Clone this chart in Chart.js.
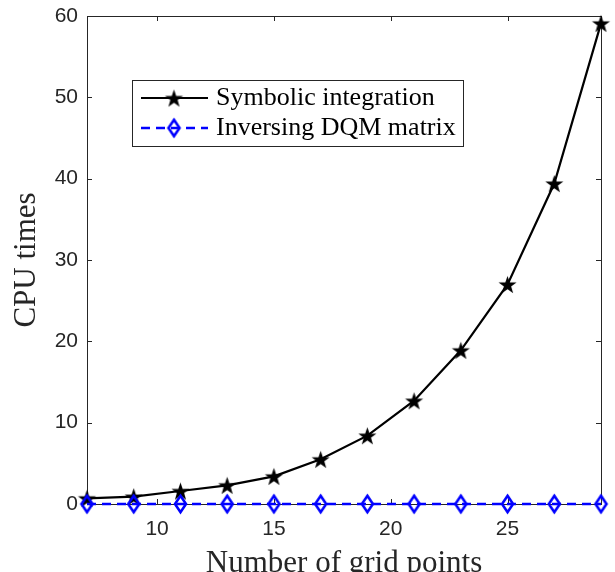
<!DOCTYPE html>
<html>
<head>
<meta charset="utf-8">
<script src="https://cdn.jsdelivr.net/npm/chart.js@4.4.1/dist/chart.umd.min.js"></script>
<style>
  html, body { margin: 0; padding: 0; background: #fff; }
</style>
</head>
<body>
<canvas id="myChart" width="615" height="572"></canvas>
<script>
// data
const gridPoints = [7, 9, 11, 13, 15, 17, 19, 21, 23, 25, 27, 29];
const symbolicTimes = [0.7, 0.9, 1.6, 2.3, 3.4, 5.5, 8.4, 12.7, 18.9, 27.0, 39.4, 59.1];
const dqmTimes = [0, 0, 0, 0, 0, 0, 0, 0, 0, 0, 0, 0];
const xTicks = [10, 15, 20, 25];
const yTicks = [0, 10, 20, 30, 40, 50, 60];

const axisColor = '#262626';
const serif = '"Liberation Serif", "Times New Roman", serif';
const sans = '"Liberation Sans", Arial, sans-serif';

// filled pentagram marker
function makeStar(r) {
  const c = document.createElement('canvas');
  const s = Math.ceil(r * 2 + 2);
  c.width = s; c.height = s;
  const g = c.getContext('2d');
  g.translate(s / 2, s / 2 + r * 0.1);
  g.beginPath();
  for (let i = 0; i < 10; i++) {
    const rad = i % 2 === 0 ? r : r * 0.4;
    const a = -Math.PI / 2 + i * Math.PI / 5;
    g.lineTo(rad * Math.cos(a), rad * Math.sin(a));
  }
  g.closePath();
  g.fillStyle = '#000';
  g.fill();
  return c;
}

// open diamond marker, taller than wide
function makeDiamond(w, h, lw) {
  const c = document.createElement('canvas');
  c.width = Math.ceil(w + lw * 2);
  c.height = Math.ceil(h + lw * 2);
  const g = c.getContext('2d');
  const cx = c.width / 2, cy = c.height / 2;
  g.beginPath();
  g.moveTo(cx, cy - h / 2);
  g.lineTo(cx + w / 2, cy);
  g.lineTo(cx, cy + h / 2);
  g.lineTo(cx - w / 2, cy);
  g.closePath();
  g.strokeStyle = '#0000ff';
  g.lineWidth = lw;
  g.stroke();
  return c;
}

const starImg = makeStar(9.5);
const diamondImg = makeDiamond(11, 16.5, 2.6);

const frame = {
  id: 'frame',
  beforeDatasetsDraw(chart) {
    const { ctx, chartArea: a, scales } = chart;
    ctx.save();
    ctx.strokeStyle = axisColor;
    ctx.lineWidth = 1;
    ctx.strokeRect(a.left + 0.5, a.top + 0.5, a.right - a.left, a.bottom - a.top);
    ctx.beginPath();
    const tl = 5;
    xTicks.forEach(v => {
      const x = Math.round(scales.x.getPixelForValue(v)) + 0.5;
      ctx.moveTo(x, a.bottom); ctx.lineTo(x, a.bottom - tl);
      ctx.moveTo(x, a.top); ctx.lineTo(x, a.top + tl);
    });
    yTicks.forEach(v => {
      const y = Math.round(scales.y.getPixelForValue(v)) + 0.5;
      ctx.moveTo(a.left, y); ctx.lineTo(a.left + tl, y);
      ctx.moveTo(a.right, y); ctx.lineTo(a.right - tl, y);
    });
    ctx.stroke();
    ctx.restore();
  },
  afterDraw(chart) {
    const ctx = chart.ctx;
    ctx.save();
    // legend box
    ctx.fillStyle = '#fff';
    ctx.fillRect(132, 80, 331, 66);
    ctx.strokeStyle = axisColor;
    ctx.lineWidth = 1;
    ctx.strokeRect(132.5, 80.5, 331, 66);
    const rows = [
      { y: 98, label: chart.data.datasets[0].label, color: '#000', dash: [], img: starImg, lw: 2.2 },
      { y: 128, label: chart.data.datasets[1].label, color: '#0000ff', dash: [9, 6], img: diamondImg, lw: 2.6 }
    ];
    rows.forEach(r => {
      ctx.beginPath();
      ctx.setLineDash(r.dash);
      ctx.strokeStyle = r.color;
      ctx.lineWidth = r.lw;
      ctx.moveTo(141, r.y); ctx.lineTo(208, r.y);
      ctx.stroke();
      ctx.setLineDash([]);
      ctx.drawImage(r.img, 174 - r.img.width / 2, r.y - r.img.height / 2);
      ctx.fillStyle = '#000';
      ctx.font = '26px ' + serif;
      ctx.textBaseline = 'alphabetic';
      ctx.fillText(r.label, 216, r.y + 7);
    });
    ctx.restore();
  }
};

new Chart(document.getElementById('myChart'), {
  type: 'line',
  data: {
    datasets: [{
      label: 'Symbolic integration',
      data: gridPoints.map((x, i) => ({ x: x, y: symbolicTimes[i] })),
      borderColor: '#000',
      borderWidth: 2.2,
      pointStyle: starImg,
      tension: 0,
      clip: false,
      order: 1
    }, {
      label: 'Inversing DQM matrix',
      data: gridPoints.map((x, i) => ({ x: x, y: dqmTimes[i] })),
      borderColor: '#0000ff',
      borderWidth: 2.6,
      borderDash: [9, 6],
      pointStyle: diamondImg,
      tension: 0,
      clip: false,
      order: 0
    }]
  },
  options: {
    responsive: false,
    animation: false,
    layout: { padding: { top: 16, right: 14, left: 0, bottom: 0 } },
    plugins: { legend: { display: false }, tooltip: { enabled: false } },
    scales: {
      x: {
        type: 'linear',
        min: 7,
        max: 29,
        afterFit(s) { s.height = 68; s.paddingLeft = 0; s.paddingRight = 0; },
        afterBuildTicks(s) { s.ticks = xTicks.map(v => ({ value: v })); },
        grid: { display: false, drawTicks: false },
        border: { display: false },
        ticks: { color: axisColor, padding: 13, font: { family: sans, size: 21 } },
        title: {
          display: true,
          text: 'Number of grid points',
          color: axisColor,
          padding: { top: 0, bottom: -10 },
          font: { family: serif, size: 31, weight: 'normal' }
        }
      },
      y: {
        min: 0,
        max: 60,
        afterFit(s) { s.width = 87; s.paddingTop = 0; s.paddingBottom = 0; },
        afterBuildTicks(s) { s.ticks = yTicks.map(v => ({ value: v })); },
        grid: { display: false, drawTicks: false },
        border: { display: false },
        ticks: { color: axisColor, padding: 9, font: { family: sans, size: 21 } },
        title: {
          display: true,
          text: 'CPU times',
          color: axisColor,
          padding: { top: 8, bottom: 0 },
          font: { family: serif, size: 31, weight: 'normal' }
        }
      }
    }
  },
  plugins: [frame]
});
</script>
</body>
</html>
